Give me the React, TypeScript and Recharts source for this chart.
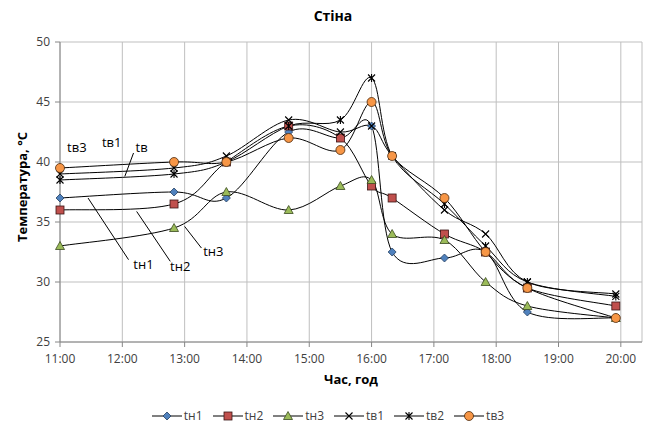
import React from 'react';
import { LineChart, Line, XAxis, YAxis, CartesianGrid, ReferenceLine, ReferenceDot } from 'recharts';

// measurement times (hours) and readings, °C
const times = [11, 12.83, 13.67, 14.67, 15.5, 16, 16.33, 17.17, 17.83, 18.5, 19.92];
const tn1 = [37, 37.5, 37, 42.5, 42, 43, 32.5, 32, 32.5, 27.5, 27];
const tn2 = [36, 36.5, 40, 43, 42, 38, 37, 34, 32.5, 29.5, 28];
const tn3 = [33, 34.5, 37.5, 36, 38, 38.5, 34, 33.5, 30, 28, 27];
const tv1 = [39, 39.5, 40.5, 43.5, 42.5, 43, 40.5, 36, 34, 30, 29];
const tv2 = [38.5, 39, 40, 43, 43.5, 47, 40.5, 36.5, 33, 30, 28.8];
const tv3 = [39.5, 40, 40, 42, 41, 45, 40.5, 37, 32.5, 29.5, 27];

const xTicks = [11, 12, 13, 14, 15, 16, 17, 18, 19, 20];
const yTicks = [25, 30, 35, 40, 45, 50];

// callout labels on the chart (data coordinates)
const callouts = [
  { text: 'tв3', x: 11.27, y: 41.2 },
  { text: 'tв1', x: 11.83, y: 41.6 },
  { text: 'tв', x: 12.31, y: 41.25 },
  { text: 'tн1', x: 12.34, y: 31.45 },
  { text: 'tн2', x: 12.93, y: 31.3 },
  { text: 'tн3', x: 13.46, y: 32.55 },
];
const leaders = [
  [{ x: 12.18, y: 40.75 }, { x: 12.04, y: 38.8 }],
  [{ x: 11.45, y: 37.0 }, { x: 12.1, y: 31.86 }],
  [{ x: 12.23, y: 35.88 }, { x: 12.77, y: 31.72 }],
  [{ x: 13.0, y: 34.63 }, { x: 13.27, y: 32.83 }],
];

const rows = times.map((t, i) => ({
  t, tn1: tn1[i], tn2: tn2[i], tn3: tn3[i], tv1: tv1[i], tv2: tv2[i], tv3: tv3[i],
}));

// Excel-like smoothed line (Catmull-Rom through the points)
const smoothCurve = (context: any) => {
  let pts: number[][] = [];
  return {
    areaStart() {},
    areaEnd() {},
    lineStart() { pts = []; },
    point(x: number, y: number) { pts.push([+x, +y]); },
    lineEnd() {
      const n = pts.length;
      if (!n) return;
      context.moveTo(pts[0][0], pts[0][1]);
      for (let i = 0; i < n - 1; i++) {
        const p0 = pts[i - 1] || pts[i];
        const p1 = pts[i];
        const p2 = pts[i + 1];
        const p3 = pts[i + 2] || p2;
        context.bezierCurveTo(
          p1[0] + (p2[0] - p0[0]) / 6, p1[1] + (p2[1] - p0[1]) / 6,
          p2[0] - (p3[0] - p1[0]) / 6, p2[1] - (p3[1] - p1[1]) / 6,
          p2[0], p2[1]
        );
      }
    },
  };
};

const FONT = '"Open Sans", sans-serif';

const Marker = ({ kind, cx, cy }: { kind: string; cx: number; cy: number }) => {
  if (cx == null || cy == null) return null;
  const s = 4;
  switch (kind) {
    case 'diamond':
      return <path d={`M${cx},${cy - s}L${cx + s},${cy}L${cx},${cy + s}L${cx - s},${cy}Z`} fill="#4F81BD" stroke="#243F60" strokeWidth={0.8} />;
    case 'square':
      return <rect x={cx - 4} y={cy - 4} width={8} height={8} fill="#C0504D" stroke="#3b1514" strokeWidth={0.8} />;
    case 'triangle':
      return <path d={`M${cx},${cy - 4.5}L${cx + 4.5},${cy + 3.5}L${cx - 4.5},${cy + 3.5}Z`} fill="#9BBB59" stroke="#3a4a1f" strokeWidth={0.8} />;
    case 'x':
      return <path d={`M${cx - 3.5},${cy - 3.5}L${cx + 3.5},${cy + 3.5}M${cx + 3.5},${cy - 3.5}L${cx - 3.5},${cy + 3.5}`} stroke="#000" strokeWidth={1.1} fill="none" />;
    case 'star':
      return <path d={`M${cx - 3.5},${cy - 3.5}L${cx + 3.5},${cy + 3.5}M${cx + 3.5},${cy - 3.5}L${cx - 3.5},${cy + 3.5}M${cx},${cy - 4}L${cx},${cy + 4}`} stroke="#000" strokeWidth={1.1} fill="none" />;
    default:
      return <circle cx={cx} cy={cy} r={4.5} fill="#F79646" stroke="#4a2a0e" strokeWidth={0.8} />;
  }
};

const series = [
  { key: 'tn1', name: 'tн1', kind: 'diamond' },
  { key: 'tn2', name: 'tн2', kind: 'square' },
  { key: 'tn3', name: 'tн3', kind: 'triangle' },
  { key: 'tv1', name: 'tв1', kind: 'x' },
  { key: 'tv2', name: 'tв2', kind: 'star' },
  { key: 'tv3', name: 'tв3', kind: 'circle' },
];

const fmtHour = (v: number) => `${v}:00`;

export default function App() {
  return (
    <div style={{ position: 'absolute', left: 0, top: 0, width: 649, height: 423, background: '#fff', fontFamily: FONT }}>
      <div style={{ position: 'absolute', top: 6, left: 0, width: 666, textAlign: 'center', fontWeight: 700, fontSize: 14, color: '#000' }}>
        Стіна
      </div>
      <LineChart width={649} height={423} data={rows} margin={{ top: 42, right: 7, bottom: 51, left: 0 }}>
        <CartesianGrid stroke="#BFBFBF" horizontal vertical />
        <XAxis
          dataKey="t"
          type="number"
          domain={[11, 20.34]}
          ticks={xTicks}
          tickFormatter={fmtHour}
          height={30}
          stroke="#868686"
          tickSize={5}
          tickMargin={7}
          tick={{ fill: '#404040', fontSize: 12, fontFamily: FONT }}
          label={{ value: 'Час, год', position: 'bottom', offset: 3, fill: '#000', fontSize: 13, fontWeight: 700, fontFamily: FONT }}
        />
        <YAxis
          type="number"
          domain={[25, 50]}
          ticks={yTicks}
          width={60}
          stroke="#868686"
          tickSize={5}
          tickMargin={5}
          tick={{ fill: '#404040', fontSize: 12, fontFamily: FONT }}
          label={{ value: 'Температура, °С', angle: -90, position: 'center', dx: -8, dy: -5, fill: '#000', fontSize: 13, fontWeight: 700, fontFamily: FONT }}
        />
        {series.map((s) => (
          <Line
            key={s.key}
            dataKey={s.key}
            name={s.name}
            type={smoothCurve as any}
            stroke="#000"
            strokeWidth={1}
            dot={(p: any) => <Marker key={`${s.key}-${p.index}`} kind={s.kind} cx={p.cx} cy={p.cy} />}
            activeDot={false}
            isAnimationActive={false}
          />
        ))}
        {leaders.map((seg, i) => (
          <ReferenceLine key={`l${i}`} segment={seg} stroke="#000" strokeWidth={1} ifOverflow="visible" />
        ))}
        {callouts.map((c) => (
          <ReferenceDot
            key={c.text}
            x={c.x}
            y={c.y}
            r={0}
            fill="none"
            stroke="none"
            ifOverflow="visible"
            label={{ value: c.text, position: 'center', fill: '#000', fontSize: 13, fontFamily: FONT }}
          />
        ))}
      </LineChart>
      <div style={{ position: 'absolute', top: 407, left: 0, width: 666, display: 'flex', justifyContent: 'center', fontSize: 12, color: '#404040' }}>
        {series.map((s) => (
          <div key={s.key} style={{ display: 'flex', alignItems: 'center', marginRight: 10 }}>
            <svg width={30} height={14}>
              <line x1={0} y1={7} x2={30} y2={7} stroke="#000" strokeWidth={1} />
              <Marker kind={s.kind} cx={15} cy={7} />
            </svg>
            <span style={{ marginLeft: 2 }}>{s.name}</span>
          </div>
        ))}
      </div>
    </div>
  );
}
